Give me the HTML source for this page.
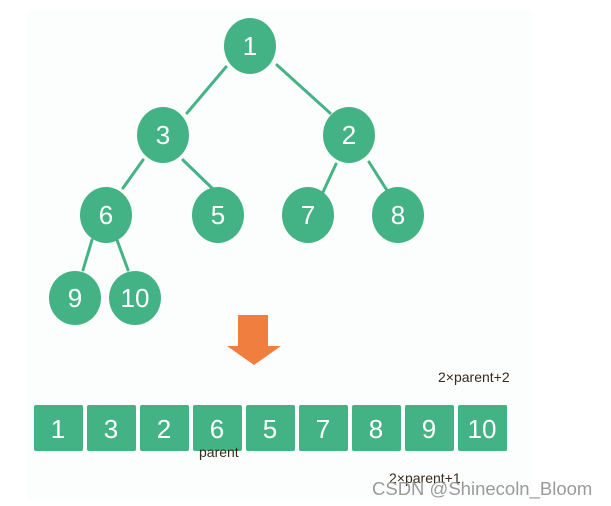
<!DOCTYPE html>
<html><head><style>
body{margin:0;width:611px;height:506px;background:#fff;overflow:hidden;position:relative;font-family:"Liberation Sans",sans-serif}
.bg{position:absolute;left:27px;top:10px;width:505px;height:490px;background:#fcfdfd}
</style></head><body>
<div class="bg"></div>
<svg width="611" height="506" style="position:absolute;left:0;top:0">
<g stroke="#45b386" stroke-width="3" stroke-linecap="round">
<line x1="226" y1="67" x2="187" y2="113"/>
<line x1="277" y1="65" x2="330" y2="113"/>
<line x1="143" y1="160" x2="123" y2="188"/>
<line x1="183" y1="160" x2="214" y2="190"/>
<line x1="336" y1="164" x2="323" y2="192"/>
<line x1="369" y1="162" x2="388" y2="192"/>
<line x1="92" y1="240" x2="83" y2="270"/>
<line x1="117" y1="240" x2="128" y2="270"/>
</g>
<g fill="#43b385">
<ellipse cx="250" cy="46" rx="26" ry="28"/>
<ellipse cx="163" cy="135" rx="26" ry="28"/>
<ellipse cx="349" cy="135" rx="26" ry="28"/>
<ellipse cx="106" cy="215" rx="26" ry="28"/>
<ellipse cx="218" cy="215" rx="26" ry="28"/>
<ellipse cx="308" cy="215" rx="26" ry="28"/>
<ellipse cx="398" cy="215" rx="26" ry="28"/>
<ellipse cx="75" cy="298" rx="26" ry="27"/>
<ellipse cx="135" cy="298" rx="26" ry="27"/>
<rect x="34" y="405" width="49" height="46" rx="2"/>
<rect x="87" y="405" width="49" height="46" rx="2"/>
<rect x="140" y="405" width="49" height="46" rx="2"/>
<rect x="193" y="405" width="49" height="46" rx="2"/>
<rect x="246" y="405" width="49" height="46" rx="2"/>
<rect x="299" y="405" width="49" height="46" rx="2"/>
<rect x="352" y="405" width="49" height="46" rx="2"/>
<rect x="405" y="405" width="49" height="46" rx="2"/>
<rect x="458" y="405" width="49" height="46" rx="2"/>
</g>
<polygon points="238,315 268,315 268,346 281,346 254,365 227,346 238,346" fill="#f07f3f"/>
<g fill="#fff" font-size="26" text-anchor="middle" font-family="Liberation Sans,sans-serif">
<text x="250" y="55">1</text><text x="163" y="144">3</text><text x="349" y="144">2</text>
<text x="106" y="224">6</text><text x="218" y="224">5</text><text x="308" y="224">7</text><text x="398" y="224">8</text>
<text x="75" y="307">9</text><text x="135" y="307">10</text>
<text x="58" y="438">1</text><text x="111" y="438">3</text><text x="164" y="438">2</text><text x="217" y="438">6</text><text x="270" y="438">5</text><text x="323" y="438">7</text><text x="376" y="438">8</text><text x="429" y="438">9</text><text x="482" y="438">10</text>
</g>
<g fill="#3a2a1a" font-size="14" font-family="Liberation Sans,sans-serif">
<text x="438" y="382">2×parent+2</text>
<text x="199" y="457">parent</text>
<text x="389" y="483">2×parent+1</text>
</g>
<text x="372" y="495" fill="#9a9a9a" font-size="18.5" font-family="Liberation Sans,sans-serif">CSDN @Shinecoln_Bloom</text>
</svg>
</body></html>
